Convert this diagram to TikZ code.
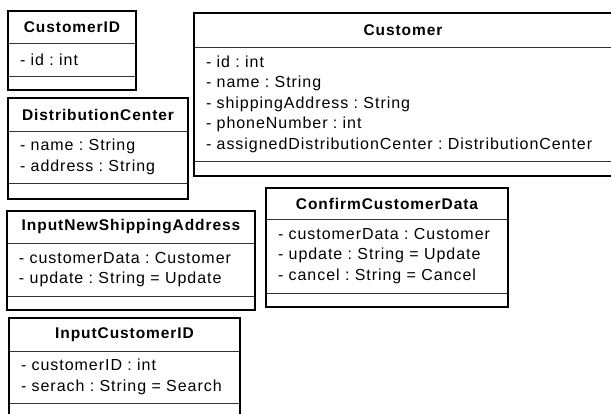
\documentclass[tikz,border=0pt]{standalone}
\usepackage{fontspec}
\setmainfont{Liberation Sans}[LetterSpace=6]
\usetikzlibrary{positioning}
\tikzstyle{part} = [rectangle, draw=black!80, line width=0.8pt, inner sep=0pt,
    outer sep=0pt]
\tikzstyle{head} = [part, font=\fontsize{15.5}{20}\selectfont\bfseries]
\tikzstyle{attrs} = [part, align=left, inner xsep=12pt,
    font=\fontsize{16}{20.5}\selectfont\frenchspacing]
\tikzstyle{ops} = [part]
\tikzstyle{frame} = [line width=2pt]

\begin{document}
\begin{tikzpicture}[x=1pt,y=-1pt,node distance=0pt]
  \useasboundingbox (0,0) rectangle (611,414);
  \clip (0,0) rectangle (611,414);

  % CustomerID
  \node[head,anchor=north west,minimum width=128,minimum height=32] (cidhead) at (8,11) {CustomerID};
  \node[attrs,text width=104,minimum width=128,minimum height=33] (cidattr) [below=of cidhead] {- id : int};
  \node[ops,minimum width=128,minimum height=14] (cidops) [below=of cidattr] {};
  \draw[frame] (cidhead.north west) rectangle (cidops.south east);

  % DistributionCenter
  \node[head,anchor=north west,minimum width=180,minimum height=33] (dchead) at (8,98) {DistributionCenter};
  \node[attrs,text width=156,minimum width=180,minimum height=52] (dcattr) [below=of dchead] {- name : String\\- address : String};
  \node[ops,minimum width=180,minimum height=16] (dcops) [below=of dcattr] {};
  \draw[frame] (dchead.north west) rectangle (dcops.south east);

  % Customer
  \node[head,anchor=north west,minimum width=418,minimum height=34] (custhead) at (194,13) {Customer};
  \node[attrs,text width=394,minimum width=418,minimum height=114] (custattr) [below=of custhead]
    {- id : int\\- name : String\\- shippingAddress : String\\- phoneNumber : int\\- assignedDistributionCenter : DistributionCenter};
  \node[ops,minimum width=418,minimum height=15] (custops) [below=of custattr] {};
  \draw[frame] (custhead.north west) rectangle (custops.south east);

  % ConfirmCustomerData
  \node[head,anchor=north west,minimum width=242,minimum height=31] (confhead) at (266,188) {ConfirmCustomerData};
  \node[attrs,text width=218,minimum width=242,minimum height=74] (confattr) [below=of confhead]
    {- customerData : Customer\\- update : String = Update\\- cancel : String = Cancel};
  \node[ops,minimum width=242,minimum height=14] (confops) [below=of confattr] {};
  \draw[frame] (confhead.north west) rectangle (confops.south east);

  % InputNewShippingAddress
  \node[head,anchor=north west,minimum width=248,minimum height=32] (newhead) at (7,211) {InputNewShippingAddress};
  \node[attrs,text width=224,minimum width=248,minimum height=53] (newattr) [below=of newhead]
    {- customerData : Customer\\- update : String = Update};
  \node[ops,minimum width=248,minimum height=14] (newops) [below=of newattr] {};
  \draw[frame] (newhead.north west) rectangle (newops.south east);

  % InputCustomerID
  \node[head,anchor=north west,minimum width=231,minimum height=33] (inhead) at (9,318) {InputCustomerID};
  \node[attrs,text width=207,minimum width=231,minimum height=52] (inattr) [below=of inhead]
    {- customerID : int\\- serach : String = Search};
  \node[ops,minimum width=231,minimum height=15] (inops) [below=of inattr] {};
  \draw[frame] (inhead.north west) rectangle (inops.south east);
\end{tikzpicture}
\end{document}
